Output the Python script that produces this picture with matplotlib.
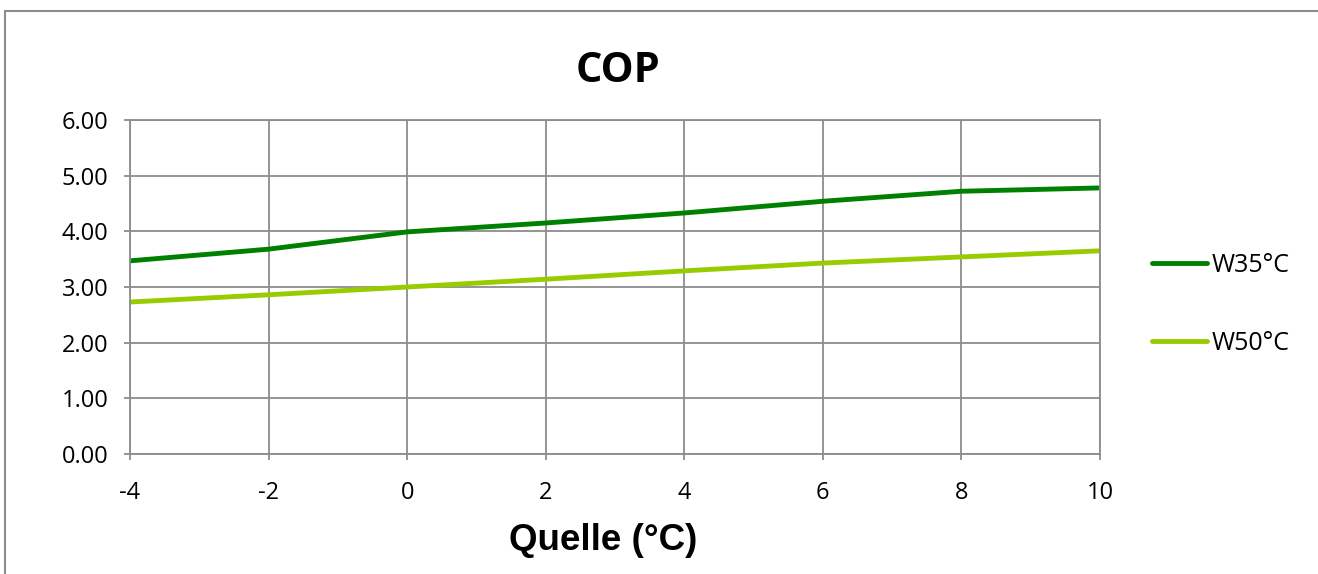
import matplotlib.pyplot as plt
from matplotlib.patches import Rectangle

plt.rcParams['axes.unicode_minus'] = False

# Data
quelle = [-4, -2, 0, 2, 4, 6, 8, 10]
cop_w35 = [3.47, 3.68, 3.99, 4.15, 4.33, 4.54, 4.72, 4.78]
cop_w50 = [2.73, 2.86, 3.00, 3.14, 3.29, 3.43, 3.54, 3.65]
x_ticks = [-4, -2, 0, 2, 4, 6, 8, 10]
y_ticks = [0, 1, 2, 3, 4, 5, 6]

W, H = 1318, 574
fig = plt.figure(figsize=(W / 100, H / 100), dpi=100)
ax = fig.add_axes([130 / W, 1 - 454 / H, 970 / W, 334 / H])

# outer chart frame
fig.patches.append(Rectangle((5 / W, -0.1), 1.2, 1 - 11 / H + 0.1, transform=fig.transFigure,
                             fill=False, edgecolor='#8c8c8c', linewidth=1.5))

ax.plot(quelle, cop_w35, color='#008000', linewidth=3.5, label='W35°C', solid_capstyle='round')
ax.plot(quelle, cop_w50, color='#99cc00', linewidth=3.5, label='W50°C', solid_capstyle='round')

ax.set_xlim(-4, 10)
ax.set_ylim(0, 6)
ax.set_xticks(x_ticks)
ax.set_yticks(y_ticks)
ax.set_yticklabels([f'{v:.2f}' for v in y_ticks])
ax.grid(True, color='#8c8c8c', linewidth=1.3)
ax.set_axisbelow(True)
for s in ax.spines.values():
    s.set_color('#8c8c8c')
    s.set_linewidth(1.3)
ax.tick_params(direction='out', length=4.5, width=1.3, color='#8c8c8c',
               labelsize=17, labelcolor='black')
for lab in ax.get_xticklabels() + ax.get_yticklabels():
    lab.set_family('Open Sans')
ax.tick_params(axis='y', pad=11)
ax.tick_params(axis='x', pad=15)

fig.text(618 / W, 1 - 72 / H, 'COP', ha='center', va='center',
         fontsize=30, fontweight='bold', family='Open Sans')
fig.text(603 / W, 1 - 540 / H, 'Quelle (°C)', ha='center', va='center',
         fontsize=26.5, fontweight='bold', family='Liberation Sans')

ax.legend(loc='center left', bbox_to_anchor=(1.03, 0.448), frameon=False,
          labelspacing=2.1, handlelength=2.2, handletextpad=0.2,
          prop={'family': 'Open Sans', 'size': 18})

fig.savefig('out.png', dpi=100)
